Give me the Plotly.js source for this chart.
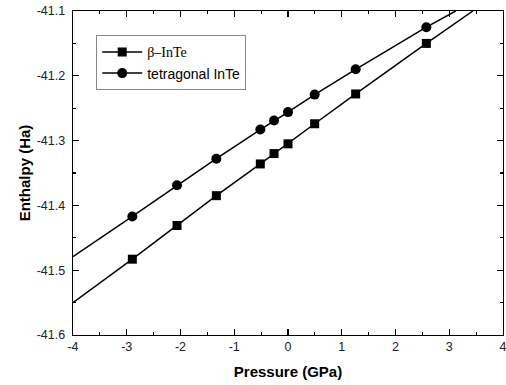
<!DOCTYPE html>
<html>
<head>
<meta charset="utf-8">
<script src="https://cdn.plot.ly/plotly-3.0.1.min.js"></script>
<style>html,body{margin:0;padding:0;background:#fff;}#chart{width:506px;height:385px;}</style>
</head>
<body>
<div id="chart"></div>
<script>
// Data
const pressure = [-2.896, -2.065, -1.333, -0.515, -0.260, 0.0, 0.496, 1.259, 2.574];
const enthalpyBeta = [-41.483, -41.431, -41.385, -41.336, -41.320, -41.305, -41.274, -41.228, -41.150];
const enthalpyTetra = [-41.417, -41.369, -41.328, -41.283, -41.269, -41.256, -41.229, -41.190, -41.125];
// Ends of the fitted lines (start at left edge, end at top edge)
const fitBetaX = [-4, 3.44];
const fitBetaY = [-41.550, -41.1];
const fitTetraX = [-4, 3.12];
const fitTetraY = [-41.479, -41.1];
// Tick labels
const xTickVals = [-4, -3, -2, -1, 0, 1, 2, 3, 4];
const xTickText = ['-4', '-3', '-2', '-1', '0', '1', '2', '3', '4'];
const yTickVals = [-41.6, -41.5, -41.4, -41.3, -41.2, -41.1];
const yTickText = ['-41.6', '-41.5', '-41.4', '-41.3', '-41.2', '-41.1'];
const nameBeta = '<span style="font-family:\'Liberation Serif\',serif">β–InTe</span>';
const nameTetra = 'tetragonal InTe';

const lineStyle = {color: '#000', width: 1.5};
const last = pressure.length - 1;
function extensions(fx, fy, ys) {
  return [
    {x: [fx[0], pressure[0]], y: [fy[0], ys[0]], mode: 'lines', line: lineStyle, showlegend: false, hoverinfo: 'skip'},
    {x: [pressure[last], fx[1]], y: [ys[last], fy[1]], mode: 'lines', line: lineStyle, showlegend: false, hoverinfo: 'skip'}
  ];
}
const traces = [].concat(
  extensions(fitBetaX, fitBetaY, enthalpyBeta),
  extensions(fitTetraX, fitTetraY, enthalpyTetra),
  [
    {x: pressure, y: enthalpyBeta, mode: 'lines+markers', name: nameBeta, line: lineStyle,
     marker: {symbol: 'square', size: 9, color: '#000'}},
    {x: pressure, y: enthalpyTetra, mode: 'lines+markers', name: nameTetra, line: lineStyle,
     marker: {symbol: 'circle', size: 10, color: '#000'}}
  ]
);

const axisCommon = {
  showgrid: false, zeroline: false, showline: true, linecolor: '#000', linewidth: 1.3,
  mirror: 'ticks', ticks: 'inside', ticklen: 6, tickwidth: 1.3, tickcolor: '#000',
  tickmode: 'array', ticklabeloverflow: 'allow',
  tickfont: {family: 'Liberation Sans, Arial, sans-serif', size: 12.5, color: '#222'}
};

const layout = {
  width: 506, height: 385,
  margin: {l: 73, r: 3, t: 11, b: 50},
  paper_bgcolor: '#fff', plot_bgcolor: '#fff',
  font: {family: 'Liberation Sans, Arial, sans-serif', color: '#000'},
  xaxis: Object.assign({}, axisCommon, {
    range: [-4, 4], tickvals: xTickVals, ticktext: xTickText,
    minor: {ticks: 'inside', ticklen: 3, dtick: 0.5, tick0: 0, tickcolor: '#000', tickwidth: 1.1},
    title: {text: 'Pressure (GPa)', font: {size: 15, family: 'Liberation Sans, Arial, sans-serif', weight: 'bold'}, standoff: 13}
  }),
  yaxis: Object.assign({}, axisCommon, {
    range: [-41.6, -41.1], tickvals: yTickVals, ticktext: yTickText, ticklabelstandoff: 4,
    minor: {ticks: 'inside', ticklen: 3, dtick: 0.05, tick0: -41.6, tickcolor: '#000', tickwidth: 1.1},
    title: {text: 'Enthalpy (Ha)', font: {size: 15, family: 'Liberation Sans, Arial, sans-serif', weight: 'bold'}, standoff: 2}
  }),
  legend: {
    x: 0.054, y: 0.925, xanchor: 'left', yanchor: 'top',
    bgcolor: '#fff', bordercolor: '#888', borderwidth: 1,
    font: {size: 14, family: 'Liberation Sans, Arial, sans-serif', color: '#000'},
    tracegroupgap: 0, itemwidth: 40
  },
  showlegend: true
};

Plotly.newPlot('chart', traces, layout, {staticPlot: true, displayModeBar: false});
</script>
</body>
</html>
